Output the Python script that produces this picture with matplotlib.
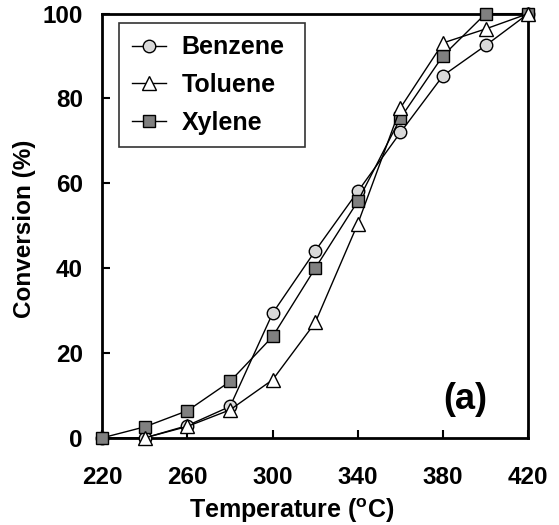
import matplotlib
matplotlib.use("Agg")
import matplotlib.pyplot as plt

temp_b = [220, 240, 260, 280, 300, 320, 340, 360, 380, 400, 420]
benzene = [0, 0, 2.9, 7.4, 29.4, 44.1, 58.1, 72.0, 85.4, 92.5, 100]
temp_x = [220, 240, 260, 280, 300, 320, 340, 360, 380, 400, 420]
xylene = [0, 2.6, 6.4, 13.3, 23.9, 40.0, 55.8, 75.4, 90.1, 100, 100]
temp_t = [240, 260, 280, 300, 320, 340, 360, 380, 400, 420]
toluene = [0, 2.7, 6.6, 13.7, 27.2, 50.5, 77.8, 93.1, 96.4, 100]

xticks = [220, 260, 300, 340, 380, 420]
yticks = [0, 20, 40, 60, 80, 100]

plt.rcParams['font.family'] = ['Liberation Sans', 'DejaVu Sans']
plt.rcParams['font.weight'] = 'bold'

fig = plt.figure(figsize=(5.59, 5.25), dpi=100)
ax = fig.add_axes([0.183, 0.166, 0.762, 0.808])

ax.plot(temp_b, benzene, '-o', color='black', lw=1.0, ms=9,
        mfc='#d9d9d9', mec='black', mew=1.0, label='Benzene', clip_on=False, zorder=3)
ax.plot(temp_x, xylene, '-s', color='black', lw=1.0, ms=9,
        mfc='#808080', mec='black', mew=1.0, label='Xylene', clip_on=False, zorder=4)
ax.plot(temp_t, toluene, '-^', color='black', lw=1.0, ms=10,
        mfc='white', mec='black', mew=1.0, label='Toluene', clip_on=False, zorder=5)

ax.set_xlim(220, 420)
ax.set_ylim(0, 100)
ax.set_xticks(xticks)
ax.set_yticks(yticks)
ax.tick_params(direction='in', length=6, width=1.5, labelsize=17.5)
ax.tick_params(axis='x', pad=20)
ax.tick_params(axis='y', pad=14)
for s in ax.spines.values():
    s.set_linewidth(2)
for lab in ax.get_xticklabels() + ax.get_yticklabels():
    lab.set_fontweight('bold')

ax.set_xlabel('Temperature ($\\mathregular{^{o}}$C)', fontsize=18, fontweight='bold')
ax.set_ylabel('Conversion (%)', fontsize=17.5, fontweight='bold')
ax.xaxis.set_label_coords(0.444, -0.138)
ax.yaxis.set_label_coords(-0.155, 0.492)

handles, labels = ax.get_legend_handles_labels()
order = [0, 2, 1]
leg = ax.legend([handles[i] for i in order], [labels[i] for i in order],
                loc='upper left', bbox_to_anchor=(0.040, 0.55, 0.437, 0.428),
                mode='expand', borderaxespad=0,
                fontsize=18, frameon=True, fancybox=False, edgecolor='black',
                handlelength=1.36, labelspacing=0.55, borderpad=0.5,
                handletextpad=0.62)
leg.get_frame().set_linewidth(1.2)
for t in leg.get_texts():
    t.set_fontweight('bold')

ax.text(0.852, 0.09, '(a)', transform=ax.transAxes, fontsize=26,
        fontweight='bold', ha='center', va='center')

fig.savefig('out.png', dpi=100)
